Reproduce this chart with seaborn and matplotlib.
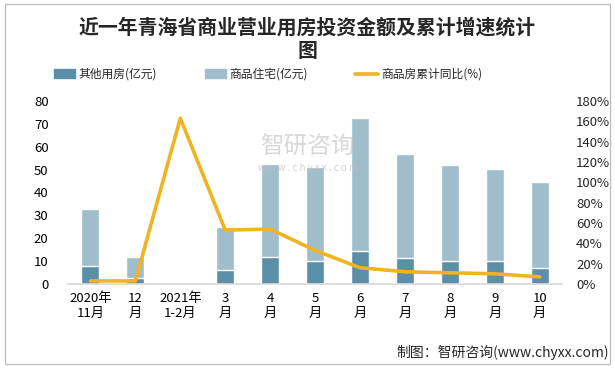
import numpy as np
import pandas as pd
import matplotlib
matplotlib.use("Agg")
import matplotlib.pyplot as plt
import seaborn as sns

# datos
months = ["2020年\n11月", "12\n月", "2021年\n1-2月", "3\n月", "4\n月", "5\n月",
          "6\n月", "7\n月", "8\n月", "9\n月", "10\n月"]
other_use = [7.9, 2.6, 0, 6.1, 11.8, 10.0, 14.4, 11.4, 10.0, 10.0, 7.0]
housing = [24.9, 9.2, 0, 18.8, 40.6, 41.1, 58.1, 45.4, 42.0, 40.2, 37.5]
growth = [3, 3, 163, 53, 54, 33, 16, 12, 11, 10, 7]

dark = "#5B8FA7"
light = "#9FBDCB"
gold = "#F0B323"

sns.set_theme(style="white")
plt.rcParams['font.family'] = ['Noto Sans CJK SC', 'DejaVu Sans']

df = pd.DataFrame({"mes": months, "otros": other_use, "vivienda": housing,
                   "total": np.array(other_use) + np.array(housing), "crec": growth})

fig = plt.figure(figsize=(6.15, 3.69), dpi=100)
ax = fig.add_axes([0.1106, 0.2304, 0.8034, 0.4959])

sns.barplot(data=df, x="mes", y="total", color=light, width=0.4, saturation=1, ax=ax)
sns.barplot(data=df, x="mes", y="otros", color=dark, width=0.4, saturation=1, ax=ax)
ax.set_ylim(0, 80)
ax.set_yticks(range(0, 81, 10))
ax.set_xlim(-0.5, len(months) - 0.5)
ax.set_xlabel("")
ax.set_ylabel("")
ax.tick_params(axis="both", length=0, labelsize=9.5, colors="black")
ax.tick_params(axis="y", pad=14)
ax.tick_params(axis="x", pad=6)
for s in ["top", "left", "right"]:
    ax.spines[s].set_visible(False)
ax.spines["bottom"].set_color("#D9D9D9")

ax2 = ax.twinx()
sns.lineplot(x=np.arange(len(months)), y=df["crec"], color=gold, linewidth=2.6, ax=ax2)
ax2.set_ylim(0, 180)
ax2.set_yticks(range(0, 181, 20))
ax2.set_yticklabels([f"{v}%" for v in range(0, 181, 20)])
ax2.set_ylabel("")
ax2.tick_params(axis="y", length=0, labelsize=9.5, pad=10)
for s in ["top", "left", "right", "bottom"]:
    ax2.spines[s].set_visible(False)
ax2.grid(False)

# título
fig.text(0.5, 0.926, "近一年青海省商业营业用房投资金额及累计增速统计", ha="center", va="center",
         fontsize=14.3, fontweight="bold")
fig.text(0.5, 0.862, "图", ha="center", va="center", fontsize=14.3, fontweight="bold")

# leyenda manual
ly = 0.80
fig.patches.append(plt.Rectangle((54 / 615, ly - 0.012), 21 / 615, 0.024, color=dark,
                                 transform=fig.transFigure))
fig.text(78 / 615, ly, "其他用房(亿元)", va="center", fontsize=8.5)
fig.patches.append(plt.Rectangle((205 / 615, ly - 0.012), 21 / 615, 0.024, color=light,
                                 transform=fig.transFigure))
fig.text(229 / 615, ly, "商品住宅(亿元)", va="center", fontsize=8.5)
fig.lines.append(plt.Line2D([355 / 615, 378 / 615], [ly, ly], color=gold, linewidth=2.6,
                            transform=fig.transFigure))
fig.text(381 / 615, ly, "商品房累计同比(%)", va="center", fontsize=8.5)

# marca de agua
fig.text(0.5, 0.60, "智研咨询", ha="center", va="center", fontsize=17, color="#BFBFBF", alpha=0.6)
fig.text(0.5, 0.545, "w w w . c h y x x . c o m", ha="center", va="center", fontsize=7,
         color="#BFBFBF", alpha=0.7)

# fuente
fig.text(0.99, 0.045, "制图：智研咨询(www.chyxx.com)", ha="right", va="center", fontsize=10)

# borde
fig.patches.append(plt.Rectangle((0.008, 0.013), 0.984, 0.975, fill=False, edgecolor="#BFBFBF",
                                 linewidth=1, transform=fig.transFigure))

fig.savefig("out.png", dpi=100)
